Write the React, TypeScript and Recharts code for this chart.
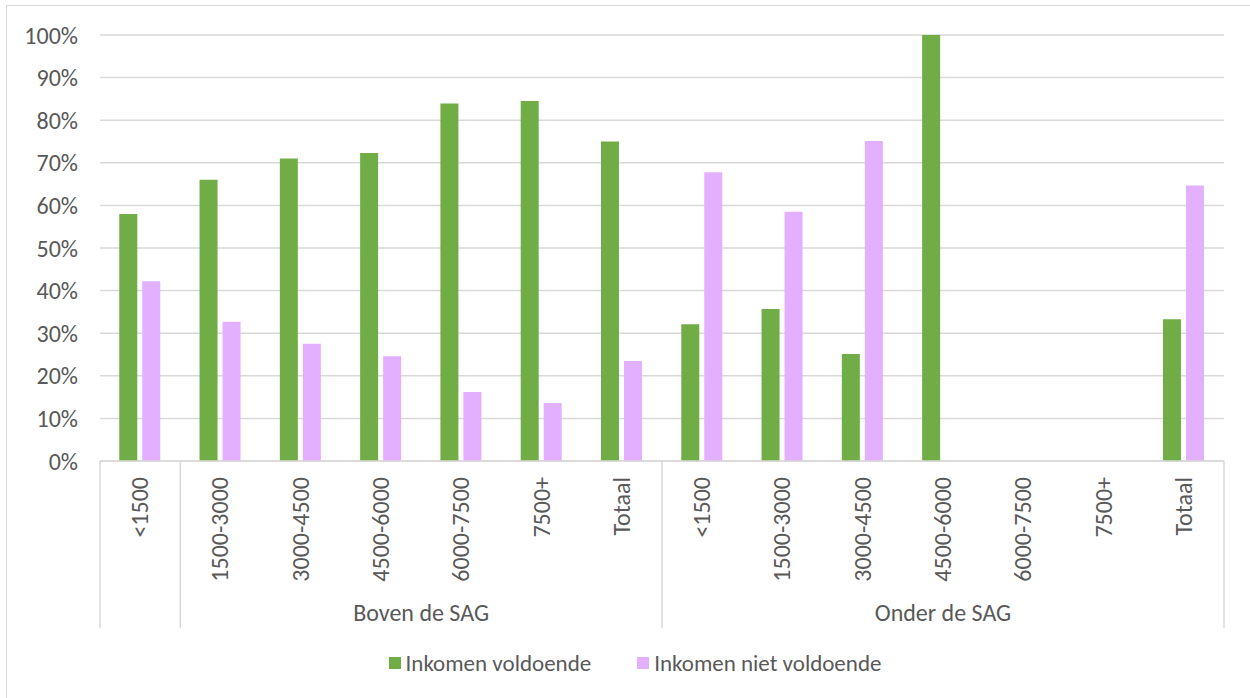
import { BarChart, Bar, XAxis, YAxis, CartesianGrid, Legend } from "recharts";

const W = 1250;
const H = 698;
const FONT = "Carlito, Lato, sans-serif";
const TEXT = "#595959";
const GRID = "#d9d9d9";
const GREEN = "#70ad47";
const PINK = "#e2b0ff";

// data (percentages)
const incomeBands = ["<1500", "1500-3000", "3000-4500", "4500-6000", "6000-7500", "7500+", "Totaal"];
const groupNames = ["Boven de SAG", "Onder de SAG"];
const voldoendeBoven = [58.0, 66.0, 71.0, 72.3, 83.9, 84.5, 75.0];
const nietBoven = [42.2, 32.7, 27.5, 24.6, 16.2, 13.6, 23.5];
const voldoendeOnder = [32.1, 35.7, 25.1, 100, null, null, 33.3];
const nietOnder = [67.8, 58.5, 75.1, null, null, null, 64.7];
const yTicks = [0, 10, 20, 30, 40, 50, 60, 70, 80, 90, 100];

const data = [
  ...incomeBands.map((band, i) => ({
    key: `b-${i}`,
    band,
    group: groupNames[0],
    voldoende: voldoendeBoven[i],
    niet: nietBoven[i],
  })),
  ...incomeBands.map((band, i) => ({
    key: `o-${i}`,
    band,
    group: groupNames[1],
    voldoende: voldoendeOnder[i],
    niet: nietOnder[i],
  })),
];

const MARGIN = { top: 35, right: 26, left: 0, bottom: 20 };
const Y_AXIS_W = 100;
const PLOT_W = W - MARGIN.left - MARGIN.right - Y_AXIS_W;
const BAND = PLOT_W / data.length;
const AXIS_Y = 461;
const SEP_BOTTOM = 628;

const CategoryTick = (props: any) => {
  const { x, index, payload } = props;
  const row = data[index];
  const half = BAND / 2;
  const lines: number[] = [];
  if (index === 0) lines.push(x - half, x + half);
  if (index === incomeBands.length - 1) lines.push(x + half);
  if (index === data.length - 1) lines.push(x + half);
  // group label sits in the middle of its span
  let groupLabel: string | null = null;
  let groupX = x;
  if (index === 3) {
    groupLabel = row.group;
    groupX = x + half;
  }
  if (index === 10) {
    groupLabel = row.group;
  }
  return (
    <g>
      <text
        transform={`translate(${x + 8}, ${AXIS_Y + 16}) rotate(-90)`}
        textAnchor="end"
        fill={TEXT}
        fontSize={24}
        fontFamily={FONT}
      >
        {payload.value}
      </text>
      {lines.map((lx, i) => (
        <line key={i} x1={lx} x2={lx} y1={AXIS_Y} y2={SEP_BOTTOM} stroke={GRID} strokeWidth={1.5} />
      ))}
      {groupLabel && (
        <text x={groupX} y={621} textAnchor="middle" fill={TEXT} fontSize={24} fontFamily={FONT}>
          {groupLabel}
        </text>
      )}
    </g>
  );
};

const LegendContent = () => (
  <div
    style={{
      display: "flex",
      justifyContent: "center",
      gap: 46,
      fontFamily: FONT,
      fontSize: 23,
      color: TEXT,
      height: 30,
      alignItems: "center",
    }}
  >
    {[
      { name: "Inkomen voldoende", color: GREEN },
      { name: "Inkomen niet voldoende", color: PINK },
    ].map((it) => (
      <div key={it.name} style={{ display: "flex", alignItems: "center" }}>
        <span style={{ width: 12, height: 12, background: it.color, marginRight: 5, display: "inline-block" }} />
        {it.name}
      </div>
    ))}
  </div>
);

export default function App() {
  return (
    <div style={{ position: "absolute", left: 0, top: 0, width: W, height: H, background: "#fff" }}>
      <div
        style={{
          position: "absolute",
          left: 6,
          top: 5,
          width: W,
          height: H,
          borderLeft: `1.5px solid ${GRID}`,
          borderTop: `1.5px solid ${GRID}`,
        }}
      />
      <BarChart
        width={W}
        height={H}
        data={data}
        margin={MARGIN}
        barCategoryGap="24%"
        barGap={5}
      >
        <CartesianGrid vertical={false} stroke={GRID} strokeWidth={1.5} />
        <XAxis
          dataKey="band"
          interval={0}
          tickLine={false}
          axisLine={{ stroke: GRID, strokeWidth: 1.5 }}
          height={187}
          tick={<CategoryTick />}
        />
        <YAxis
          width={Y_AXIS_W}
          domain={[0, 100]}
          ticks={yTicks}
          tickFormatter={(v: number) => `${v}%`}
          tickLine={false}
          axisLine={false}
          tickMargin={16}
          tick={{ fill: TEXT, fontSize: 24, fontFamily: FONT }}
        />
        <Legend
          verticalAlign="bottom"
          content={<LegendContent />}
          wrapperStyle={{ left: 20, width: W - 20 }}
        />
        <Bar dataKey="voldoende" name="Inkomen voldoende" fill={GREEN} isAnimationActive={false} />
        <Bar dataKey="niet" name="Inkomen niet voldoende" fill={PINK} isAnimationActive={false} />
      </BarChart>
    </div>
  );
}
